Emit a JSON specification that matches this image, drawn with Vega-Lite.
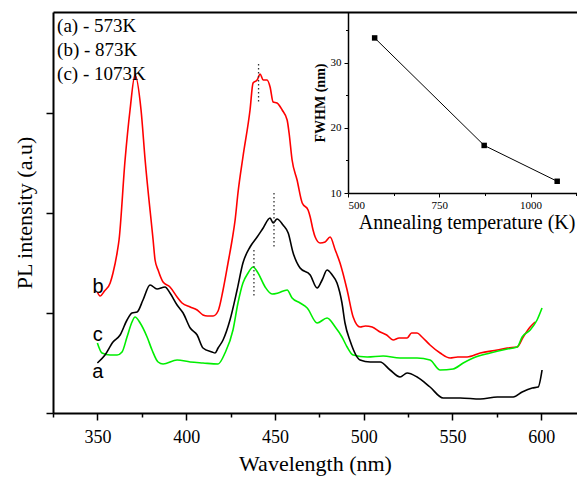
{
  "$schema": "https://vega.github.io/schema/vega-lite/v6.json",
  "width": 524,
  "height": 401,
  "autosize": {"type": "none"},
  "padding": {"left": 53, "top": 12, "right": 0, "bottom": 66},
  "background": "white",
  "config": {
    "font": "Liberation Serif",
    "view": {"stroke": null},
    "axis": {"grid": false, "domainColor": "black", "tickColor": "black", "labelColor": "black", "titleColor": "black", "labelFont": "Liberation Serif", "titleFont": "Liberation Serif", "titleFontWeight": "normal"}
  },
  "datasets": {
    "spectra": [
      {"s":"b","wl":350,"I":1.21},{"s":"b","wl":351.5,"I":1.17},{"s":"b","wl":354,"I":1.22},{"s":"b","wl":357.2,"I":1.30},{"s":"b","wl":358.8,"I":1.40},{"s":"b","wl":361.1,"I":1.60},{"s":"b","wl":362.2,"I":1.73},{"s":"b","wl":365.6,"I":2.53},{"s":"b","wl":368.4,"I":3.03},{"s":"b","wl":371.2,"I":3.38},{"s":"b","wl":374.6,"I":3.03},{"s":"b","wl":376.9,"I":2.53},{"s":"b","wl":381.4,"I":1.73},{"s":"b","wl":382.5,"I":1.53},{"s":"b","wl":384.2,"I":1.43},{"s":"b","wl":387,"I":1.31},{"s":"b","wl":390.9,"I":1.26},{"s":"b","wl":394.9,"I":1.16},{"s":"b","wl":397.7,"I":1.10},{"s":"b","wl":402.3,"I":1.06},{"s":"b","wl":406.2,"I":1.03},{"s":"b","wl":409.5,"I":0.98},{"s":"b","wl":412,"I":0.97},{"s":"b","wl":415.2,"I":0.97},{"s":"b","wl":418,"I":1.02},{"s":"b","wl":420.8,"I":1.23},{"s":"b","wl":423.6,"I":1.50},{"s":"b","wl":425.9,"I":1.73},{"s":"b","wl":427.6,"I":1.93},{"s":"b","wl":429.2,"I":2.20},{"s":"b","wl":432,"I":2.56},{"s":"b","wl":436,"I":3.03},{"s":"b","wl":437.7,"I":3.30},{"s":"b","wl":440,"I":3.33},{"s":"b","wl":441.7,"I":3.39},{"s":"b","wl":443.4,"I":3.33},{"s":"b","wl":445.6,"I":3.33},{"s":"b","wl":447.3,"I":3.26},{"s":"b","wl":449,"I":3.11},{"s":"b","wl":451.2,"I":3.10},{"s":"b","wl":454.1,"I":3.03},{"s":"b","wl":456.9,"I":2.93},{"s":"b","wl":458,"I":2.80},{"s":"b","wl":459.7,"I":2.53},{"s":"b","wl":462.5,"I":2.33},{"s":"b","wl":465.4,"I":2.10},{"s":"b","wl":468.7,"I":2.03},{"s":"b","wl":469.9,"I":1.96},{"s":"b","wl":471.5,"I":1.83},{"s":"b","wl":472.7,"I":1.76},{"s":"b","wl":475.5,"I":1.70},{"s":"b","wl":478.3,"I":1.71},{"s":"b","wl":481.1,"I":1.76},{"s":"b","wl":484,"I":1.63},{"s":"b","wl":486.7,"I":1.50},{"s":"b","wl":490.7,"I":1.23},{"s":"b","wl":494.1,"I":0.96},{"s":"b","wl":498,"I":0.86},{"s":"b","wl":501,"I":0.87},{"s":"b","wl":504.8,"I":0.86},{"s":"b","wl":509.3,"I":0.81},{"s":"b","wl":513,"I":0.78},{"s":"b","wl":516.6,"I":0.73},{"s":"b","wl":520,"I":0.75},{"s":"b","wl":524.5,"I":0.75},{"s":"b","wl":527,"I":0.80},{"s":"b","wl":530.1,"I":0.80},{"s":"b","wl":532.9,"I":0.76},{"s":"b","wl":537.4,"I":0.68},{"s":"b","wl":543.1,"I":0.60},{"s":"b","wl":548.7,"I":0.55},{"s":"b","wl":553,"I":0.56},{"s":"b","wl":558.3,"I":0.56},{"s":"b","wl":565.7,"I":0.60},{"s":"b","wl":575.3,"I":0.63},{"s":"b","wl":580.9,"I":0.65},{"s":"b","wl":586.5,"I":0.66},{"s":"b","wl":589.9,"I":0.76},{"s":"b","wl":593.8,"I":0.86},{"s":"b","wl":596.6,"I":0.91},
      {"s":"c","wl":350,"I":0.70},{"s":"c","wl":352.6,"I":0.60},{"s":"c","wl":357.2,"I":0.58},{"s":"c","wl":361.1,"I":0.58},{"s":"c","wl":363.9,"I":0.61},{"s":"c","wl":366.7,"I":0.76},{"s":"c","wl":369.5,"I":0.91},{"s":"c","wl":371.2,"I":0.96},{"s":"c","wl":374.1,"I":0.90},{"s":"c","wl":378,"I":0.76},{"s":"c","wl":380.8,"I":0.63},{"s":"c","wl":384.2,"I":0.51},{"s":"c","wl":387,"I":0.49},{"s":"c","wl":394.9,"I":0.53},{"s":"c","wl":402.3,"I":0.51},{"s":"c","wl":409.5,"I":0.50},{"s":"c","wl":418,"I":0.49},{"s":"c","wl":421.9,"I":0.60},{"s":"c","wl":426.4,"I":0.83},{"s":"c","wl":429.2,"I":1.10},{"s":"c","wl":432,"I":1.30},{"s":"c","wl":434.9,"I":1.40},{"s":"c","wl":437.7,"I":1.46},{"s":"c","wl":440.5,"I":1.40},{"s":"c","wl":444.5,"I":1.26},{"s":"c","wl":448.4,"I":1.19},{"s":"c","wl":451.8,"I":1.20},{"s":"c","wl":456.9,"I":1.23},{"s":"c","wl":459.7,"I":1.15},{"s":"c","wl":464.2,"I":1.10},{"s":"c","wl":468.2,"I":1.05},{"s":"c","wl":473.8,"I":0.90},{"s":"c","wl":479.4,"I":0.95},{"s":"c","wl":484,"I":0.86},{"s":"c","wl":487.8,"I":0.76},{"s":"c","wl":490.7,"I":0.66},{"s":"c","wl":494.1,"I":0.58},{"s":"c","wl":502,"I":0.56},{"s":"c","wl":511,"I":0.57},{"s":"c","wl":520.5,"I":0.55},{"s":"c","wl":530.1,"I":0.55},{"s":"c","wl":537.4,"I":0.53},{"s":"c","wl":543.1,"I":0.43},{"s":"c","wl":550.4,"I":0.44},{"s":"c","wl":556.1,"I":0.50},{"s":"c","wl":561.7,"I":0.55},{"s":"c","wl":571.3,"I":0.60},{"s":"c","wl":580.9,"I":0.64},{"s":"c","wl":586.5,"I":0.66},{"s":"c","wl":589.3,"I":0.76},{"s":"c","wl":593.8,"I":0.83},{"s":"c","wl":597.7,"I":0.93},{"s":"c","wl":600.5,"I":1.05},
      {"s":"a","wl":350,"I":0.50},{"s":"a","wl":354.3,"I":0.58},{"s":"a","wl":358.8,"I":0.71},{"s":"a","wl":362.8,"I":0.78},{"s":"a","wl":366.7,"I":0.93},{"s":"a","wl":369.5,"I":1.00},{"s":"a","wl":372.4,"I":1.01},{"s":"a","wl":375.7,"I":1.13},{"s":"a","wl":379.7,"I":1.28},{"s":"a","wl":383.6,"I":1.24},{"s":"a","wl":388.1,"I":1.26},{"s":"a","wl":390.9,"I":1.20},{"s":"a","wl":394.9,"I":1.08},{"s":"a","wl":398.3,"I":1.00},{"s":"a","wl":402.3,"I":0.85},{"s":"a","wl":406.2,"I":0.78},{"s":"a","wl":409.5,"I":0.65},{"s":"a","wl":414.6,"I":0.61},{"s":"a","wl":416.3,"I":0.60},{"s":"a","wl":418,"I":0.65},{"s":"a","wl":420.8,"I":0.73},{"s":"a","wl":424.7,"I":0.93},{"s":"a","wl":428.7,"I":1.23},{"s":"a","wl":432,"I":1.50},{"s":"a","wl":436,"I":1.66},{"s":"a","wl":440,"I":1.76},{"s":"a","wl":443.4,"I":1.85},{"s":"a","wl":447.3,"I":1.95},{"s":"a","wl":449,"I":1.90},{"s":"a","wl":451.2,"I":1.94},{"s":"a","wl":454.6,"I":1.88},{"s":"a","wl":457.5,"I":1.80},{"s":"a","wl":460.3,"I":1.60},{"s":"a","wl":464.2,"I":1.45},{"s":"a","wl":469.9,"I":1.38},{"s":"a","wl":473.8,"I":1.25},{"s":"a","wl":476.6,"I":1.33},{"s":"a","wl":479.4,"I":1.43},{"s":"a","wl":482.3,"I":1.38},{"s":"a","wl":485,"I":1.30},{"s":"a","wl":487.8,"I":1.10},{"s":"a","wl":489.5,"I":0.90},{"s":"a","wl":492.4,"I":0.72},{"s":"a","wl":498,"I":0.53},{"s":"a","wl":503.7,"I":0.51},{"s":"a","wl":509.3,"I":0.51},{"s":"a","wl":514.9,"I":0.43},{"s":"a","wl":520.5,"I":0.36},{"s":"a","wl":524.5,"I":0.40},{"s":"a","wl":530.1,"I":0.36},{"s":"a","wl":537.4,"I":0.26},{"s":"a","wl":544.8,"I":0.15},{"s":"a","wl":554.4,"I":0.15},{"s":"a","wl":565.7,"I":0.14},{"s":"a","wl":575.3,"I":0.16},{"s":"a","wl":584.3,"I":0.16},{"s":"a","wl":589.3,"I":0.21},{"s":"a","wl":595,"I":0.25},{"s":"a","wl":598.3,"I":0.26},{"s":"a","wl":600.5,"I":0.43}
    ],
    "peaks": [
      {"wl":440.8,"I":3.49,"I2":3.11},
      {"wl":449.5,"I":2.20,"I2":1.65},
      {"wl":438.2,"I":1.63,"I2":1.15}
    ],
    "legendText": [
      {"wl":327.3,"I":3.87,"t":"(a) - 573K"},
      {"wl":327.3,"I":3.63,"t":"(b) - 873K"},
      {"wl":327.3,"I":3.39,"t":"(c) - 1073K"}
    ],
    "curveText": [
      {"wl":350.4,"I":1.20,"t":"b"},
      {"wl":350.2,"I":0.72,"t":"c"},
      {"wl":350.2,"I":0.35,"t":"a"}
    ],
    "fwhm": [
      {"T":573,"F":33.8},
      {"T":873,"F":17.3},
      {"T":1073,"F":11.8}
    ],
    "edge": [{"v":325},{"v":620}]
  },
  "layer": [
    {
      "layer": [
        {
          "data": {"name": "spectra"},
          "mark": {"type": "line", "strokeWidth": 1.6, "interpolate": "monotone"},
          "encoding": {
            "x": {"field": "wl", "type": "quantitative", "scale": {"domain": [325, 620.2], "nice": false, "zero": false},
              "axis": {"orient": "bottom", "values": [350, 400, 450, 500, 550, 600], "tickSize": 7, "tickWidth": 1.5, "domainWidth": 2, "labelFontSize": 18, "labelPadding": 8, "title": "Wavelength (nm)", "titleFontSize": 22, "titlePadding": 7}},
            "y": {"field": "I", "type": "quantitative", "scale": {"domain": [0, 4.01], "nice": false, "zero": false},
              "axis": {"orient": "left", "values": [0, 1, 2, 3], "labels": false, "tickSize": 7, "tickWidth": 1.5, "domainWidth": 2, "title": "PL intensity (a.u)", "titleFontSize": 22, "titlePadding": 9}},
            "color": {"field": "s", "type": "nominal", "scale": {"domain": ["a", "b", "c"], "range": ["#000000", "#ff0000", "#00ee00"]}, "legend": null},
            "order": {"field": "wl", "type": "quantitative"}
          }
        },
        {
          "data": {"name": "peaks"},
          "mark": {"type": "rule", "color": "#333333", "strokeWidth": 1.3, "strokeDash": [1.5, 2.5]},
          "encoding": {
            "x": {"field": "wl", "type": "quantitative"},
            "y": {"field": "I", "type": "quantitative"},
            "y2": {"field": "I2"}
          }
        },
        {
          "data": {"name": "legendText"},
          "mark": {"type": "text", "align": "left", "baseline": "middle", "font": "Liberation Serif", "fontSize": 19, "color": "black"},
          "encoding": {
            "x": {"field": "wl", "type": "quantitative"},
            "y": {"field": "I", "type": "quantitative"},
            "text": {"field": "t"}
          }
        },
        {
          "data": {"name": "curveText"},
          "mark": {"type": "text", "align": "center", "baseline": "alphabetic", "font": "Liberation Sans", "fontSize": 20, "color": "black"},
          "encoding": {
            "x": {"field": "wl", "type": "quantitative"},
            "y": {"field": "I", "type": "quantitative"},
            "text": {"field": "t"}
          }
        }
      ]
    },
    {
      "data": {"name": "edge"},
      "mark": {"type": "rule", "opacity": 0},
      "encoding": {
        "x": {"field": "v", "type": "quantitative", "scale": {"domain": [325, 620.2], "nice": false, "zero": false},
          "axis": {"orient": "bottom", "values": [325, 375, 425, 475, 525, 575], "tickSize": 4, "tickWidth": 1.5, "labels": false, "domain": false, "title": null}}
      }
    },
    {
      "data": {"name": "edge"},
      "mark": {"type": "rule", "opacity": 0},
      "encoding": {
        "x": {"field": "v", "type": "quantitative", "scale": {"domain": [325, 620.2], "nice": false, "zero": false},
          "axis": {"orient": "top", "ticks": false, "labels": false, "domain": true, "domainWidth": 2, "title": null}}
      }
    },
    {
      "data": {"name": "fwhm"},
      "layer": [
        {"mark": {"type": "line", "color": "black", "strokeWidth": 1}},
        {"mark": {"type": "point", "shape": "square", "filled": true, "color": "black", "opacity": 1, "size": 30}}
      ],
      "encoding": {
        "x": {"field": "T", "type": "quantitative", "scale": {"domain": [500, 1150], "range": [295, 532.3], "nice": false, "zero": false},
          "axis": {"orient": "bottom", "offset": -220, "values": [500, 750, 1000], "format": "d", "tickSize": 4, "tickWidth": 1, "domainWidth": 1.5, "labelFontSize": 11, "labelPadding": 2, "title": "Annealing temperature (K)", "titleFontSize": 20, "titlePadding": 2}},
        "y": {"field": "F", "type": "quantitative", "scale": {"domain": [10, 37.78], "range": [181, 0], "nice": false, "zero": false},
          "axis": {"orient": "left", "offset": -295, "values": [10, 20, 30], "format": "d", "tickSize": 4, "tickWidth": 1, "domainWidth": 1.5, "labelFontSize": 11, "labelPadding": 3, "title": "FWHM (nm)", "titleFontSize": 14, "titleFontWeight": "bold", "titlePadding": 3}}
      }
    },
    {
      "data": {"name": "fwhm"},
      "mark": {"type": "point", "opacity": 0},
      "encoding": {
        "x": {"field": "T", "type": "quantitative", "scale": {"domain": [500, 1150], "range": [295, 532.3], "nice": false, "zero": false},
          "axis": {"orient": "bottom", "offset": -220, "values": [625, 875, 1125], "tickSize": 2.5, "tickWidth": 1, "labels": false, "domain": false, "title": null}},
        "y": {"field": "F", "type": "quantitative", "scale": {"domain": [10, 37.78], "range": [181, 0], "nice": false, "zero": false},
          "axis": {"orient": "left", "offset": -295, "values": [15, 25, 35], "tickSize": 2.5, "tickWidth": 1, "labels": false, "domain": false, "title": null}}
      }
    }
  ],
  "resolve": {"scale": {"x": "independent", "y": "independent"}, "axis": {"x": "independent", "y": "independent"}}
}
